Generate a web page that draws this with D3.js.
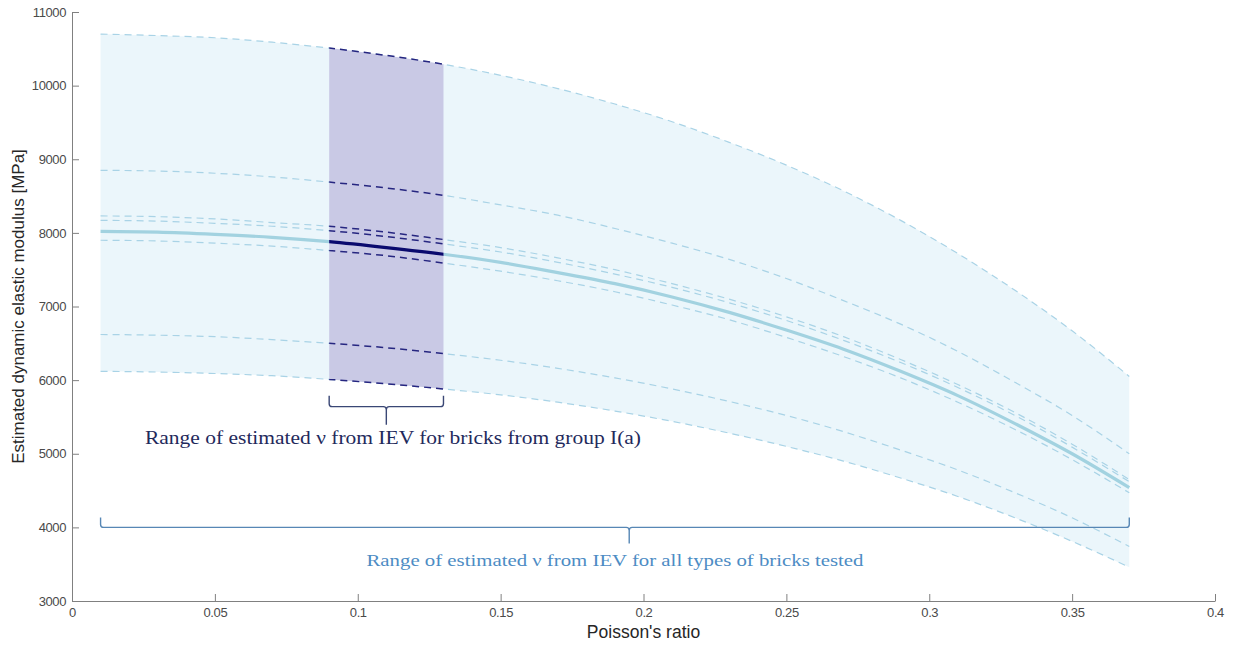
<!DOCTYPE html>
<html><head><meta charset="utf-8">
<script src="https://cdn.jsdelivr.net/npm/d3@7"></script>
<style>body{margin:0;background:#fff;} svg{display:block;}</style>
</head><body><svg id="c" width="1234" height="645"></svg>
<script>
// Poisson's ratio samples
const poisson = [0.01,0.03,0.05,0.07,0.09,0.11,0.13,0.15,0.17,0.19,0.21,0.23,0.25,0.27,0.29,0.31,0.33,0.35,0.37];
// Estimated dynamic elastic modulus [MPa] for each curve
const upperBound = [10700,10680,10650,10590,10510,10410,10290,10140,9960,9750,9510,9230,8920,8570,8170,7720,7220,6670,6050];
const dashed2    = [8850,8840,8810,8760,8690,8610,8510,8380,8240,8060,7860,7640,7380,7080,6760,6390,5970,5520,5000];
const dashed3    = [8230,8220,8190,8140,8090,8010,7910,7800,7660,7500,7310,7100,6860,6590,6280,5940,5560,5130,4650];
const dashed4    = [8170,8160,8130,8090,8030,7950,7850,7740,7600,7440,7260,7050,6810,6540,6240,5900,5520,5090,4620];
const meanCurve  = [8020,8010,7980,7940,7880,7800,7710,7600,7460,7310,7130,6920,6680,6420,6120,5790,5410,5000,4540];
const dashed5    = [7900,7890,7860,7820,7760,7690,7590,7480,7350,7200,7020,6820,6580,6320,6030,5700,5330,4920,4470];
const dashed6    = [6620,6610,6590,6550,6500,6440,6360,6270,6160,6030,5880,5710,5520,5300,5050,4780,4470,4130,3740];
const lowerBound = [6120,6110,6090,6060,6010,5950,5880,5800,5700,5580,5440,5280,5100,4900,4670,4420,4130,3810,3460];

const xTicks = [0,0.05,0.1,0.15,0.2,0.25,0.3,0.35,0.4];
const xTickLabels = ["0","0.05","0.1","0.15","0.2","0.25","0.3","0.35","0.4"];
const yTicks = [3000,4000,5000,6000,7000,8000,9000,10000,11000];

const groupRange = [0.09, 0.13];
const allRange = [0.01, 0.37];
const groupBracketLevel = 5640, groupBracketTick = 0.11;
const allBracketLevel = 4000, allBracketTick = 0.195;
const groupText = "Range of estimated \u03bd from IEV for bricks from group I(a)";
const allText = "Range of estimated \u03bd from IEV for all types of bricks tested";

const svg = d3.select("#c");
const x = d3.scaleLinear().domain([0,0.4]).range([72,1215]);
const y = d3.scaleLinear().domain([3000,11000]).range([601,12]);

const pts = arr => poisson.map((p,i)=>[p,arr[i]]);
const line = d3.line().x(d=>x(d[0])).y(d=>y(d[1])).curve(d3.curveMonotoneX);
const area = d3.area().x(d=>x(d.p)).y0(d=>y(d.lo)).y1(d=>y(d.hi)).curve(d3.curveMonotoneX);
const bandData = poisson.map((p,i)=>({p, lo: lowerBound[i], hi: upperBound[i]}));

const defs = svg.append("defs");
defs.append("clipPath").attr("id","grp").append("rect")
  .attr("x", x(groupRange[0])).attr("y", 0)
  .attr("width", x(groupRange[1]) - x(groupRange[0])).attr("height", 645);

// light band
svg.append("path").attr("d", area(bandData)).attr("fill","#ebf6fb");

const dashedSeries = [upperBound, dashed2, dashed3, dashed4, dashed5, dashed6, lowerBound];
dashedSeries.forEach(s=>{
  svg.append("path").attr("d", line(pts(s))).attr("fill","none")
    .attr("stroke","#a9d3e6").attr("stroke-width",1.2).attr("stroke-dasharray","7,5");
});
svg.append("path").attr("d", line(pts(meanCurve))).attr("fill","none")
  .attr("stroke","#a2d2e0").attr("stroke-width",3.2);

// group I(a) band
const g2 = svg.append("g").attr("clip-path","url(#grp)");
g2.append("path").attr("d", area(bandData)).attr("fill","#c9c9e5");
dashedSeries.forEach(s=>{
  g2.append("path").attr("d", line(pts(s))).attr("fill","none")
    .attr("stroke","#262680").attr("stroke-width",1.5).attr("stroke-dasharray","7,5");
});
g2.append("path").attr("d", line(pts(meanCurve))).attr("fill","none")
  .attr("stroke","#0a0a6e").attr("stroke-width",3.2);

// axes
const axisColor = "#808080";
const xAxis = svg.append("g").attr("transform",`translate(0,${y(3000)})`)
  .call(d3.axisBottom(x).tickValues(xTicks).tickFormat((d,i)=>xTickLabels[i]).tickSizeInner(-7).tickSizeOuter(0).tickPadding(5));
const yAxis = svg.append("g").attr("transform",`translate(${x(0)},0)`)
  .call(d3.axisLeft(y).tickValues(yTicks).tickFormat(d3.format("d")).tickSizeInner(-7).tickSizeOuter(0).tickPadding(6));
[xAxis,yAxis].forEach(a=>{
  a.selectAll("path,line").attr("stroke",axisColor);
  a.selectAll("text").attr("fill","#4a4a4a").style("font-family","Liberation Sans, Arial, sans-serif").style("font-size","13px").style("letter-spacing","-0.4px");
});
xAxis.selectAll("text").attr("dy","0.85em");

svg.append("text").attr("x",(x(0)+x(0.4))/2).attr("y",638).attr("text-anchor","middle")
  .style("font-family","Liberation Sans, Arial, sans-serif").style("font-size","17.5px").attr("fill","#262626")
  .text("Poisson's ratio");
svg.append("text").attr("transform",`translate(24,${(y(3000)+y(11000))/2}) rotate(-90)`).attr("text-anchor","middle")
  .style("font-family","Liberation Sans, Arial, sans-serif").style("font-size","17px").attr("fill","#262626")
  .text("Estimated dynamic elastic modulus [MPa]");

// brackets
function bracket(x0, x1, xm, yb, endH, tickH, color){
  const r = 3;
  const p = `M${x0},${yb-endH} L${x0},${yb-r} Q${x0},${yb} ${x0+r},${yb} L${xm-r},${yb} Q${xm},${yb} ${xm},${yb+r} L${xm},${yb+tickH}`
    + ` M${xm},${yb+r} Q${xm},${yb} ${xm+r},${yb} L${x1-r},${yb} Q${x1},${yb} ${x1},${yb-r} L${x1},${yb-endH}`;
  svg.append("path").attr("d",p).attr("fill","none").attr("stroke",color).attr("stroke-width",1.4);
}
bracket(x(groupRange[0]), x(groupRange[1]), x(groupBracketTick), y(groupBracketLevel), 11, 18, "#3a4775");
bracket(x(allRange[0]), x(allRange[1]), x(allBracketTick), y(allBracketLevel), 10, 16, "#5787b5");

svg.append("text").attr("x", 393).attr("y", 444).attr("text-anchor","middle")
  .style("font-family","Liberation Serif, serif").style("font-size","18px").attr("fill","#1f2a5c")
  .attr("textLength",496).attr("lengthAdjust","spacingAndGlyphs").text(groupText);
svg.append("text").attr("x", 615).attr("y", 566).attr("text-anchor","middle")
  .style("font-family","Liberation Serif, serif").style("font-size","17px").attr("fill","#4d8cc4")
  .attr("textLength",497).attr("lengthAdjust","spacingAndGlyphs").text(allText);
</script></body></html>
